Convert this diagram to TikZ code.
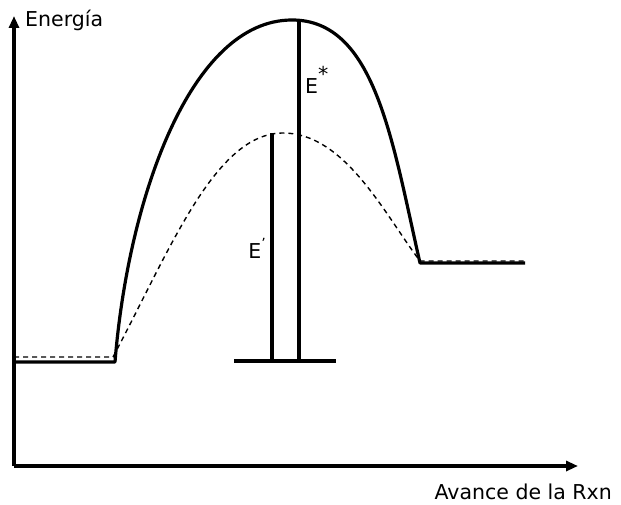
\documentclass[tikz,border=0pt]{standalone}
\usepackage{fontspec}
\setmainfont{DejaVu Sans}
\usetikzlibrary{arrows.meta}
\begin{document}
\begin{tikzpicture}[x=1pt,y=-1pt,
  thick line/.style={line width=3.2pt},
  dash line/.style={line width=1.4pt,dash pattern=on 5pt off 4pt},
  axis/.style={line width=3.2pt,-{Triangle[length=12pt,width=10pt]}},
  lbl/.style={font=\fontsize{20.5}{22}\selectfont,inner sep=0pt}]
\useasboundingbox (0,0) rectangle (621,505);
% axes
\coordinate (O) at (14,466);
\coordinate (Ytop) at (14,16);
\coordinate (Xend) at (578,466);
\draw[axis] (O) -- (Ytop);
\draw[axis] (O) -- (Xend);
\node[lbl,anchor=west] (ylab) at (25,20) {Energía};
\node[lbl,anchor=east] (xlab) at (612,492) {Avance de la Rxn};
% levels
\coordinate (R0) at (14,362);
\coordinate (R1) at (115,362);
\coordinate (P0) at (420,263);
\coordinate (P1) at (525,263);
\coordinate (Rd0) at (14,357);
\coordinate (Rd1) at (113,357);
\coordinate (Pd0) at (420,261);
\coordinate (Pd1) at (525,261);
\coordinate (Top) at (292,20);
\coordinate (Topd) at (283,133);
% solid path
\draw[thick line,line join=round] (R0) -- (R1)
  .. controls (128,200) and (190,20) .. (Top)
  .. controls (375,20) and (392,140) .. (P0) -- (P1);
% dashed path
\draw[dash line] (Rd0) -- (Rd1)
  .. controls (170,250) and (215,133) .. (Topd)
  .. controls (345,133) and (385,215) .. (Pd0) -- (Pd1);
% energy bars
\coordinate (B0) at (234,361);
\coordinate (B1) at (336,361);
\coordinate (Es) at (299,20);
\coordinate (Esb) at (299,361);
\coordinate (Ep) at (272,133);
\coordinate (Epb) at (272,361);
\draw[thick line] (B0) -- (B1);
\draw[thick line] (Es) -- (Esb);
\draw[thick line] (Ep) -- (Epb);
\node[lbl,anchor=west] (estar) at (305,80) {E\raisebox{1.1ex}{*}};
\node[lbl,anchor=east] (eprime) at (266,248) {E\raisebox{0.9ex}{\fontsize{14}{14}\selectfont'}};
\end{tikzpicture}
\end{document}
